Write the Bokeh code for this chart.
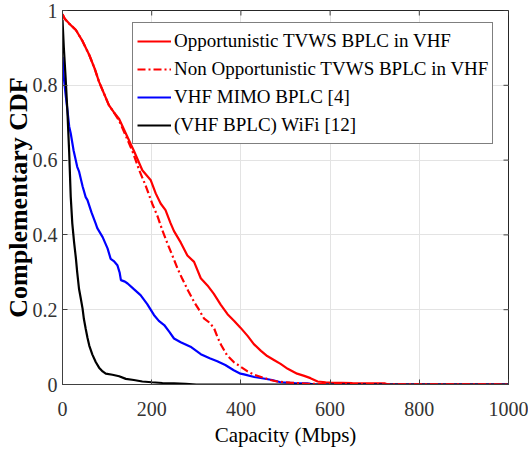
import math
from bokeh.plotting import figure
from bokeh.models import (Range1d, FixedTicker, Legend, LegendItem)
from bokeh.embed import file_html
from bokeh.resources import INLINE

# ---------------- data ----------------
opp_x = [0, 5, 15, 30, 45, 60, 72, 82, 93, 104, 115, 127, 142, 160, 179, 198, 209, 220, 231, 242, 250,
         265, 280, 295, 310, 325, 339, 355, 370, 385, 399, 415, 429, 445, 459, 475, 489, 505, 526, 542,
         556, 572, 590, 602, 650, 722, 730, 1000]
opp_y = [0.99, 0.978, 0.965, 0.948, 0.918, 0.881, 0.845, 0.809, 0.778, 0.747, 0.728, 0.71, 0.671, 0.625,
         0.573, 0.546, 0.511, 0.484, 0.466, 0.432, 0.41, 0.38, 0.345, 0.328, 0.284, 0.265, 0.243, 0.213,
         0.188, 0.17, 0.152, 0.13, 0.108, 0.09, 0.076, 0.065, 0.055, 0.042, 0.029, 0.023, 0.017, 0.008,
         0.006, 0.005, 0.004, 0.003, 0.0, 0.0]

nonopp_x = [0, 5, 15, 30, 45, 60, 72, 82, 93, 104, 115, 127, 142, 158, 172, 187, 201, 213, 224, 236, 248,
            258, 268, 282, 295, 306, 317, 330, 340, 348, 356, 369, 384, 399, 415, 430, 451, 466, 481, 510,
            549, 600, 1000]
nonopp_y = [0.99, 0.978, 0.965, 0.948, 0.918, 0.881, 0.845, 0.809, 0.778, 0.747, 0.728, 0.705, 0.665, 0.62,
            0.573, 0.53, 0.484, 0.45, 0.412, 0.375, 0.34, 0.31, 0.284, 0.25, 0.221, 0.2, 0.177, 0.165, 0.15,
            0.125, 0.105, 0.078, 0.06, 0.048, 0.035, 0.026, 0.018, 0.012, 0.008, 0.005, 0.002, 0.001, 0.0]

mimo_x = [0, 3, 7, 11, 15, 18.5, 25, 33, 37, 45, 52, 56, 65, 74.5, 78, 90, 101, 108, 115, 123, 128, 131,
          140, 146, 160, 175, 190, 205, 216, 228, 240, 250, 265, 287, 310, 330, 347, 365, 384, 399, 407,
          430, 451, 470, 489, 520, 549, 565, 1000]
mimo_y = [0.876, 0.82, 0.775, 0.734, 0.69, 0.671, 0.625, 0.582, 0.57, 0.53, 0.501, 0.493, 0.46, 0.43, 0.418,
          0.394, 0.364, 0.336, 0.33, 0.319, 0.3, 0.279, 0.275, 0.27, 0.255, 0.239, 0.215, 0.186, 0.17, 0.159,
          0.14, 0.123, 0.113, 0.101, 0.081, 0.07, 0.062, 0.052, 0.038, 0.029, 0.027, 0.02, 0.016, 0.012,
          0.006, 0.004, 0.003, 0.0, 0.0]

wifi_x = [0, 3, 7, 11, 15, 18.5, 22, 26, 30, 33, 37, 41, 45, 48, 52, 56, 60, 67, 74.5, 82, 90, 97, 112,
          127, 142, 160, 179, 200, 224, 250, 276, 300, 1000]
wifi_y = [0.975, 0.9, 0.82, 0.73, 0.62, 0.501, 0.43, 0.38, 0.338, 0.3, 0.256, 0.23, 0.203, 0.175, 0.149,
          0.125, 0.104, 0.08, 0.06, 0.045, 0.035, 0.029, 0.026, 0.022, 0.015, 0.012, 0.008, 0.006, 0.004,
          0.003, 0.002, 0.0, 0.0]

labels = ["Opportunistic TVWS BPLC in VHF", "Non Opportunistic TVWS BPLC in VHF",
          "VHF MIMO BPLC [4]", "(VHF BPLC) WiFi [12]"]

x_ticks = [0, 200, 400, 600, 800, 1000]
x_tick_labels = ["0", "200", "400", "600", "800", "1000"]
y_ticks = [0, 0.2, 0.4, 0.6, 0.8, 1]
y_tick_labels = ["0", "0.2", "0.4", "0.6", "0.8", "1"]
x_min, x_max = 0, 1000
y_min, y_max = 0, 1

# ---------------- figure ----------------
FONT = "Liberation Serif"
p = figure(width=528, height=455, output_backend="svg", toolbar_location=None,
           x_range=Range1d(x_min, x_max), y_range=Range1d(y_min, y_max),
           min_border_left=62, min_border_right=20, min_border_top=10, min_border_bottom=71)
p.background_fill_color = "white"
p.border_fill_color = "white"
p.outline_line_color = "#262626"
p.outline_line_width = 1

for ax, ticks, labs in ((p.xaxis[0], x_ticks, x_tick_labels), (p.yaxis[0], y_ticks, y_tick_labels)):
    ax.ticker = FixedTicker(ticks=ticks)
    ax.major_label_overrides = {t: l for t, l in zip(ticks, labs)}
    ax.major_label_text_font = FONT
    ax.major_label_text_font_size = "20px"
    ax.major_label_text_color = "#333333"
    ax.major_tick_in = 5
    ax.major_tick_out = 0
    ax.minor_tick_in = 0
    ax.minor_tick_out = 0
    ax.axis_line_color = "#404040"
    ax.major_tick_line_color = "#404040"
    ax.axis_label_text_font = FONT
    ax.axis_label_text_font_style = "normal"
    ax.axis_label_text_color = "black"

p.xaxis.axis_label = "Capacity (Mbps)"
p.xaxis.axis_label_text_font_size = "21px"
p.xaxis.major_label_standoff = 17
p.xaxis.axis_label_standoff = 4
p.yaxis.axis_label = "Complementary CDF"
p.yaxis.axis_label_text_font_size = "26px"
p.yaxis.axis_label_text_font_style = "bold"
p.yaxis.major_label_standoff = 5
p.yaxis.axis_label_standoff = -3

p.xgrid.ticker = FixedTicker(ticks=x_ticks)
p.ygrid.ticker = FixedTicker(ticks=y_ticks)
p.grid.grid_line_color = "#e3e3e3"
p.grid.grid_line_width = 1

# box ticks on top and right edges (half of each dash is clipped by the frame)
p.scatter(x_ticks, [y_max] * len(x_ticks), marker="dash", size=10, angle=math.pi / 2,
          line_color="#404040", line_width=1)
p.scatter([x_max] * len(y_ticks), y_ticks, marker="dash", size=10, angle=0,
          line_color="#404040", line_width=1)

r1 = p.line(opp_x, opp_y, line_color="#ff0000", line_width=2.2)
r3 = p.line(mimo_x, mimo_y, line_color="#0000ff", line_width=2.2)
r4 = p.line(wifi_x, wifi_y, line_color="#000000", line_width=2.2)
r2 = p.line(nonopp_x, nonopp_y, line_color="#ff0000", line_width=2.2, line_dash="8 3 2 3")

legend = Legend(items=[LegendItem(label=labels[0], renderers=[r1]),
                       LegendItem(label=labels[1], renderers=[r2]),
                       LegendItem(label=labels[2], renderers=[r3]),
                       LegendItem(label=labels[3], renderers=[r4])],
                location=(70, 240))
legend.label_text_font = FONT
legend.label_text_font_size = "19px"
legend.label_text_color = "black"
legend.glyph_width = 34
legend.glyph_height = 28
legend.label_height = 28
legend.label_standoff = 3
legend.spacing = 0
legend.padding = 4
legend.margin = 0
legend.border_line_color = "black"
legend.border_line_width = 1
legend.background_fill_alpha = 1
p.add_layout(legend)

open("out.html", "w").write(file_html(p, INLINE))
